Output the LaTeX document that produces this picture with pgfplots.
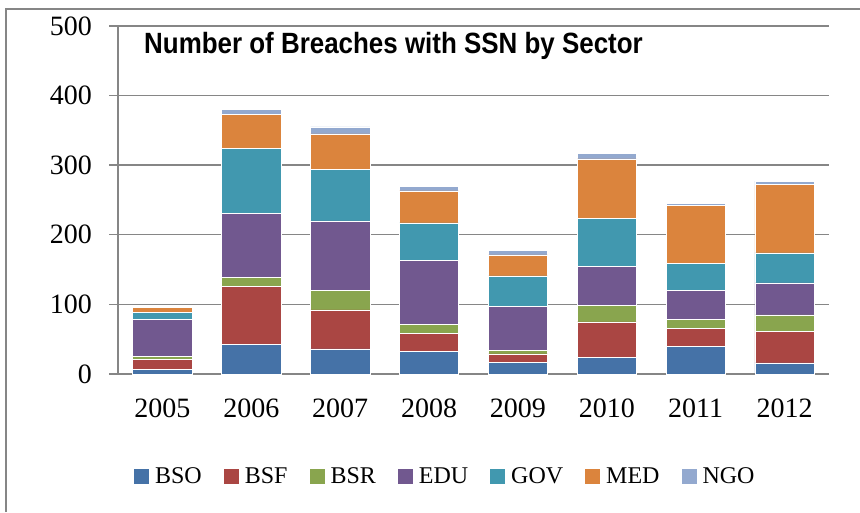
\documentclass[border=0pt]{standalone}
\usepackage{pgfplots}
\usepackage{pgfplotstable}
\pgfplotsset{compat=1.18}
\usepackage{fontspec}
\setmainfont{Liberation Serif}
\newfontfamily\titlefont[FakeStretch=0.885]{Liberation Sans}
\definecolor{axgray}{HTML}{868686}
\definecolor{cBSO}{HTML}{4572A7}
\definecolor{cBSF}{HTML}{AA4643}
\definecolor{cBSR}{HTML}{89A54E}
\definecolor{cEDU}{HTML}{71588F}
\definecolor{cGOV}{HTML}{4198AF}
\definecolor{cMED}{HTML}{DB843D}
\definecolor{cNGO}{HTML}{93A9CF}
\pgfplotstableread{
x year BSO BSF BSR EDU GOV MED NGO
0 2005 7 14 4 54 10 7 1
1 2006 43 83 13 92 93 49 7
2 2007 36 56 28 100 74 51 10
3 2008 33 25 13 92 54 46 7
4 2009 17 12 5 63 44 30 7
5 2010 24 51 24 56 68 86 8
6 2011 40 25 14 41 39 83 3
7 2012 16 45 24 46 43 98 5
}\datatable
\begin{document}
\begin{tikzpicture}
\path[use as bounding box] (0,0) rectangle (860pt,512pt);
\draw[axgray, line width=2pt] (6pt,0pt) -- (6pt,503pt) -- (860pt,503pt);
\begin{axis}[
  at={(118pt,138pt)}, anchor=south west,
  scale only axis, width=711pt, height=348pt,
  ybar stacked, bar width=59.3pt,
  xmin=-0.5, xmax=7.5, ymin=0, ymax=500,
  axis x line=bottom, axis y line=left,
  axis line style={-, axgray, line width=1.4pt},
  xtick={0,...,7},
  xticklabels={2005,2006,2007,2008,2009,2010,2011,2012},
  x tick style={draw=none},
  minor xtick={-0.5,0.5,...,7.5},
  minor x tick style={axgray, line width=1.4pt},
  minor tick length=9pt,
  ytick={0,100,...,500},
  y tick style={axgray, line width=1.4pt},
  major tick length=9pt,
  tick align=outside,
  ymajorgrids,
  major grid style={axgray, line width=1.4pt},
  /pgf/number format/assume math mode=true,
  ticklabel style={font=\fontsize{28}{32}\selectfont, inner sep=0pt},
  yticklabel style={xshift=-17pt},
  xticklabel style={yshift=-16pt},
  title={\titlefont\bfseries Number of Breaches with SSN by Sector},
  title style={at={(rel axis cs:0.0366,0.9023)}, anchor=base west, inner sep=0pt, font=\fontsize{29.3}{34}\selectfont},
  legend columns=-1,
  legend style={draw=none, fill=none, at={(rel axis cs:0.459,-0.2945)}, anchor=center,
    font=\fontsize{24}{28}\selectfont,
    nodes={inner xsep=0pt},
    /tikz/every even column/.append style={column sep=22pt},
    /tikz/every odd column/.append style={column sep=6pt}},
  legend image code/.code={\fill[#1, draw=none] (0pt,-7.5pt) rectangle (15pt,7.5pt);},
]
\addplot[fill=cBSO, draw=white, line width=0.6pt] table[x=x,y=BSO] {\datatable};
\addplot[fill=cBSF, draw=white, line width=0.6pt] table[x=x,y=BSF] {\datatable};
\addplot[fill=cBSR, draw=white, line width=0.6pt] table[x=x,y=BSR] {\datatable};
\addplot[fill=cEDU, draw=white, line width=0.6pt] table[x=x,y=EDU] {\datatable};
\addplot[fill=cGOV, draw=white, line width=0.6pt] table[x=x,y=GOV] {\datatable};
\addplot[fill=cMED, draw=white, line width=0.6pt] table[x=x,y=MED] {\datatable};
\addplot[fill=cNGO, draw=white, line width=0.6pt] table[x=x,y=NGO] {\datatable};
\legend{BSO,BSF,BSR,EDU,GOV,MED,NGO}
\end{axis}
\end{tikzpicture}
\end{document}
